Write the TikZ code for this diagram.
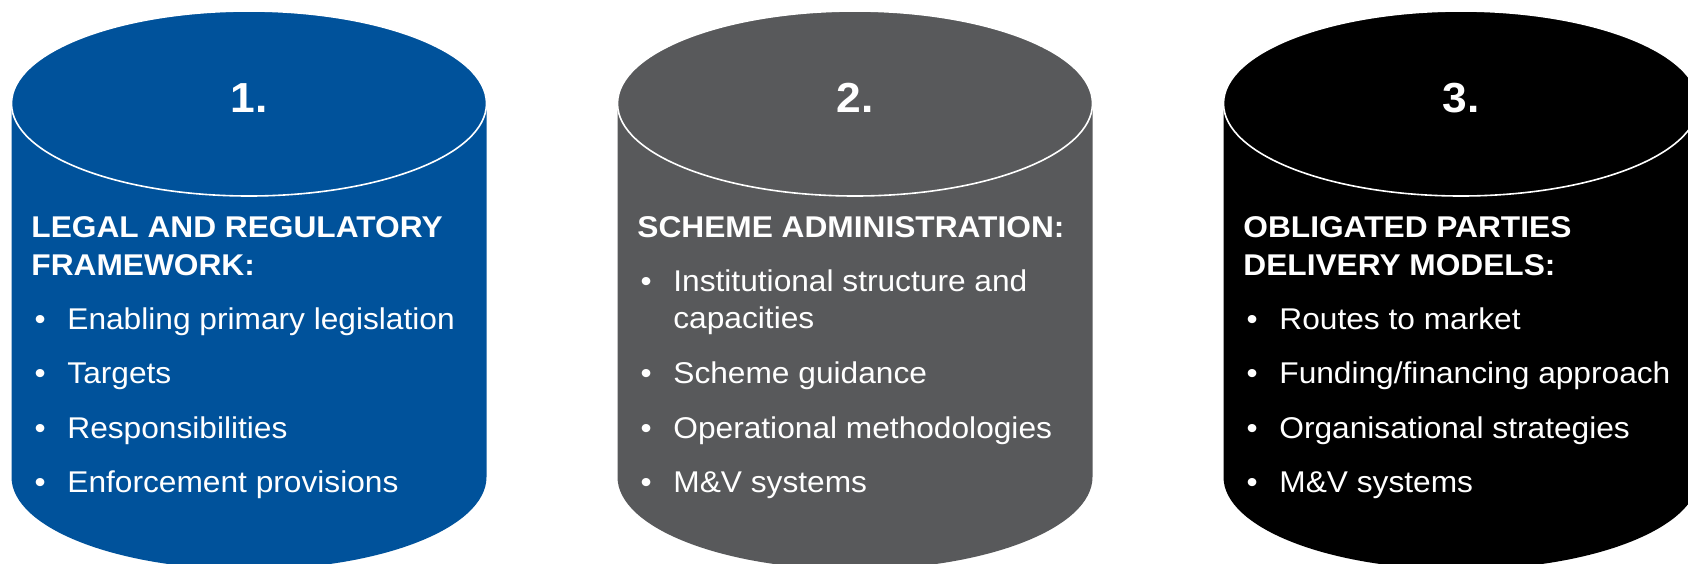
\documentclass[tikz,border=0pt]{standalone}
\usepackage{fontspec}
\setmainfont{Liberation Sans}[FakeStretch=1.056]
\usetikzlibrary{positioning}
\definecolor{legalblue}{RGB}{0,82,155}
\definecolor{schemegrey}{RGB}{88,89,91}
\newcommand\bul{\makebox[18pt][l]{\hspace{1.6pt}\textbullet}}
\newcommand\drum[2]{%
  \fill[#2] (#1-237.5,103.5) -- (#1-237.5,477)
    arc[start angle=180,end angle=0,x radius=237.5,y radius=92.5]
    -- (#1+237.5,103.5)
    arc[start angle=0,end angle=-180,x radius=237.5,y radius=92.5] -- cycle;
  \draw[white,line width=0.8pt] (#1,103.5) ellipse [x radius=237.5,y radius=92.5];}
\tikzstyle{num}=[font=\bfseries\fontsize{21}{25}\selectfont,text=white,inner sep=0,anchor=base]
\tikzstyle{head}=[font=\bfseries\fontsize{15}{18}\selectfont,text=white,inner sep=0,anchor=base west]
\tikzstyle{item}=[font=\fontsize{15}{18}\selectfont,text=white,inner sep=0,anchor=base west]

\begin{document}
\begin{tikzpicture}[x=0.5pt,y=-0.5pt]
    \useasboundingbox (0,0) rectangle (1688,563);
    \clip (0,0) rectangle (1688,563);
    \drum{249}{legalblue}
    \drum{855}{schemegrey}
    \drum{1461}{black}
    % 1. legal
    \node[num] (n1) at (249,112) {1.};
    \node[head] (legal1) at (31,237) {LEGAL AND REGULATORY};
    \node[head] (legal2) at (31,275) {FRAMEWORK:};
    \node[item] (leg1) at (31,329.5) {\bul Enabling primary legislation};
    \node[item] (leg2) at (31,383) {\bul Targets};
    \node[item] (leg3) at (31,438) {\bul Responsibilities};
    \node[item] (leg4) at (31,492) {\bul Enforcement provisions};
    % 2. scheme
    \node[num] (n2) at (855,112) {2.};
    \node[head] (scheme) at (637,237) {SCHEME ADMINISTRATION:};
    \node[item] (sch1) at (637,291) {\bul Institutional structure and};
    \node[item] (sch1b) at (673,328.5) {capacities};
    \node[item] (sch2) at (637,383) {\bul Scheme guidance};
    \node[item] (sch3) at (637,438) {\bul Operational methodologies};
    \node[item] (sch4) at (637,492) {\bul M\&V systems};
    % 3. obligated parties
    \node[num] (n3) at (1461,112) {3.};
    \node[head] (oblig1) at (1243,237) {OBLIGATED PARTIES};
    \node[head] (oblig2) at (1243,275) {DELIVERY MODELS:};
    \node[item] (obl1) at (1243,329.5) {\bul Routes to market};
    \node[item] (obl2) at (1243,383) {\bul Funding/financing approach};
    \node[item] (obl3) at (1243,438) {\bul Organisational strategies};
    \node[item] (obl4) at (1243,492) {\bul M\&V systems};
\end{tikzpicture}
\end{document}
